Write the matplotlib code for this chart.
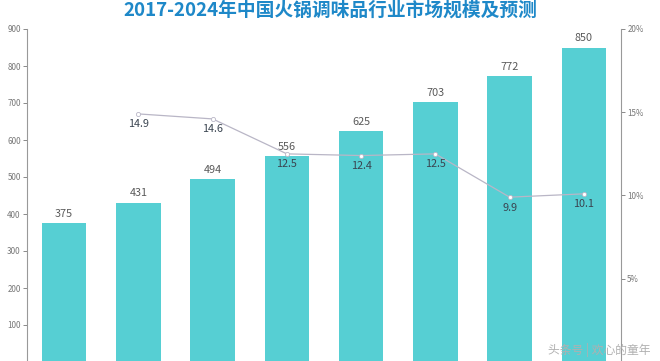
import matplotlib.pyplot as plt
import numpy as np

plt.rcParams['font.family'] = ['Noto Sans CJK SC', 'DejaVu Sans']

years = ['2017', '2018', '2019', '2020', '2021', '2022', '2023', '2024']
market_size = [375, 431, 494, 556, 625, 703, 772, 850]
growth_years_idx = [1, 2, 3, 4, 5, 6, 7]
growth_rate = [14.9, 14.6, 12.5, 12.4, 12.5, 9.9, 10.1]
left_ticks = [100, 200, 300, 400, 500, 600, 700, 800, 900]
right_ticks = [5, 10, 15, 20]

fig = plt.figure(figsize=(6.6, 3.61), dpi=100)
ax = fig.add_axes([27/660, -1/361, (621-27)/660, (362-29)/361])
x = np.arange(len(years))
bars = ax.bar(x, market_size, width=0.6, color='#56CFD3', zorder=2)
ax.set_xlim(-0.5, len(years)-0.5)
ax.set_ylim(0, 900)
ax.set_yticks(left_ticks)
ax.set_yticklabels([str(t) for t in left_ticks])
ax.tick_params(axis='y', labelsize=5.8, colors='#777777', length=3, width=0.6, pad=1.5)
ax.set_xticks([])
for s in ['top', 'bottom', 'right']:
    ax.spines[s].set_visible(False)
ax.spines['left'].set_color('#999999')
ax.spines['left'].set_linewidth(0.8)
for xi, v in zip(x, market_size):
    ax.annotate(str(v), (xi, v), xytext=(0, 3), textcoords='offset points',
                ha='center', va='bottom', fontsize=7.8, color='#5a5a5a', zorder=5)

ax2 = ax.twinx()
ax2.set_ylim(0, 20)
ax2.set_yticks(right_ticks)
ax2.set_yticklabels([f'{t}%' for t in right_ticks])
ax2.tick_params(axis='y', labelsize=5.8, colors='#777777', length=3, width=0.6, pad=1.5)
for s in ['top', 'bottom', 'left']:
    ax2.spines[s].set_visible(False)
ax2.spines['right'].set_color('#999999')
ax2.spines['right'].set_linewidth(0.8)
ax2.plot(growth_years_idx, growth_rate, color='#b9b6c6', lw=0.9, marker='o', ms=3,
         mfc='white', mec='#b9b6c6', mew=0.6, zorder=4)
for xi, v in zip(growth_years_idx, growth_rate):
    ax2.annotate(f'{v}', (xi, v), xytext=(0, -4), textcoords='offset points',
                 ha='center', va='top', fontsize=7.8, color='#3a4450', zorder=5)

fig.text(0.5, 0.997, '2017-2024年中国火锅调味品行业市场规模及预测', ha='center', va='top',
         fontsize=13.5, fontweight='bold', color='#1E88C8')
fig.text(0.985, 0.012, '头条号 | 欢心的童年', ha='right', va='bottom', fontsize=8.5,
         color='#b0b0b0')

fig.savefig('out.png', dpi=100)
